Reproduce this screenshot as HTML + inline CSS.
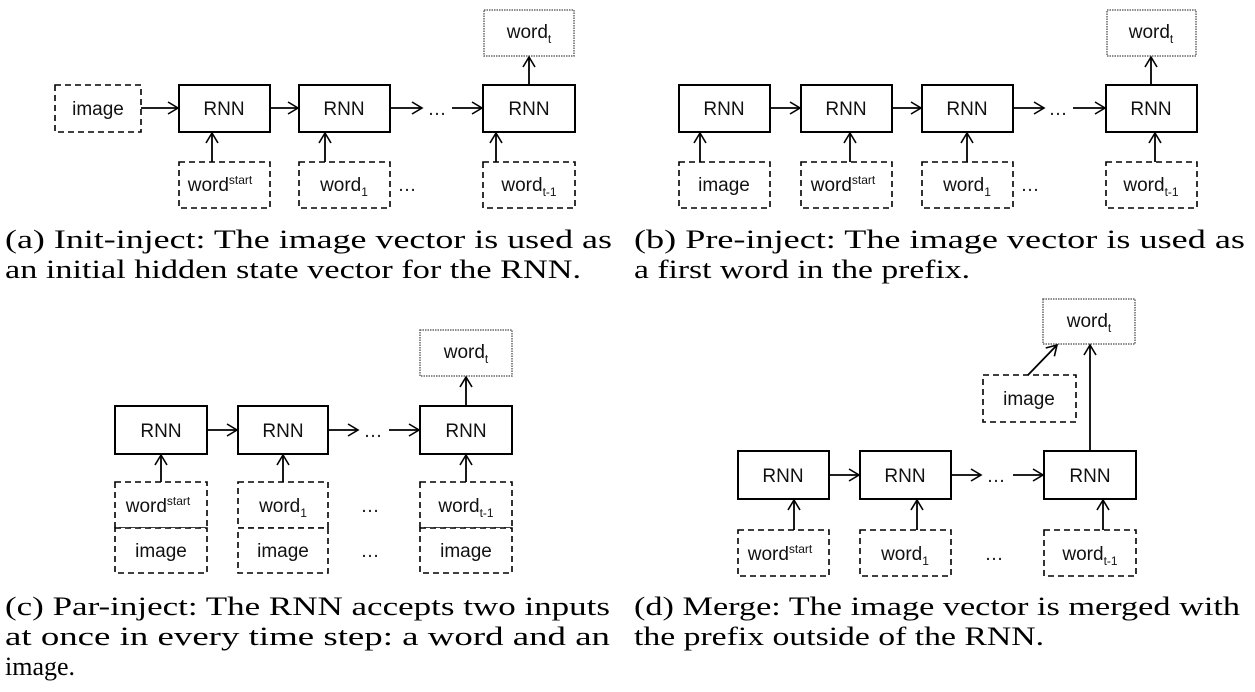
<!DOCTYPE html>
<html><head><meta charset="utf-8"><style>
html,body{margin:0;padding:0;background:#fff;}
svg{display:block}
.b{fill:#fff;stroke:#000;stroke-width:2}
.d{fill:#fff;stroke:#000;stroke-width:1.6;stroke-dasharray:6,4}
.o{fill:#fff;stroke:#666;stroke-width:1.5;stroke-dasharray:1.5,1}
.l{stroke:#000;stroke-width:1.8;fill:none;marker-end:url(#ah)}
.t{font-family:"Liberation Sans",sans-serif;font-size:19px;text-anchor:middle;fill:#111}
.s{font-size:12px}
.c{font-family:"Liberation Serif",serif;font-size:26px;fill:#000}
</style></head><body>
<svg width="1255" height="692" viewBox="0 0 1255 692" xmlns="http://www.w3.org/2000/svg">
<defs><marker id="ah" markerWidth="14" markerHeight="14" refX="12" refY="7" orient="auto" markerUnits="userSpaceOnUse"><path d="M2,1 L12,7 L2,13" fill="none" stroke="#000" stroke-width="1.6"/></marker></defs>

<!-- (a) -->
<rect class="d" x="55" y="85" width="86" height="47"/><text class="t" x="98" y="115">image</text>
<rect class="b" x="179" y="85" width="91" height="47"/><text class="t" x="224" y="115">RNN</text>
<rect class="b" x="299" y="85" width="91" height="47"/><text class="t" x="344" y="115">RNN</text>
<rect class="b" x="483" y="85" width="92" height="47"/><text class="t" x="529" y="115">RNN</text>
<rect class="o" x="484" y="10" width="90" height="46"/><text class="t" x="529" y="38">word<tspan class="s" dy="5">t</tspan></text>
<line class="l" x1="141" y1="108" x2="178" y2="108"/>
<line class="l" x1="270" y1="108" x2="298" y2="108"/>
<line class="l" x1="390" y1="108" x2="422" y2="108"/>
<text class="t" x="437" y="115">…</text>
<line class="l" x1="452" y1="108" x2="482" y2="108"/>
<line class="l" x1="529" y1="85" x2="529" y2="57"/>
<rect class="d" x="179" y="162" width="91" height="46"/><text class="t" x="220" y="191">word<tspan class="s" dy="-7">start</tspan></text>
<rect class="d" x="299" y="162" width="91" height="46"/><text class="t" x="344" y="191">word<tspan class="s" dy="5">1</tspan></text>
<text class="t" x="407" y="191">…</text>
<rect class="d" x="483" y="162" width="92" height="46"/><text class="t" x="529" y="191">word<tspan class="s" dy="5">t-1</tspan></text>
<line class="l" x1="212" y1="162" x2="212" y2="133"/>
<line class="l" x1="325" y1="162" x2="325" y2="133"/>
<line class="l" x1="496" y1="162" x2="496" y2="133"/>
<text class="c" x="5" y="248" textLength="607" lengthAdjust="spacingAndGlyphs">(a)  Init-inject: The image vector is used as</text>
<text class="c" x="5" y="278" textLength="576" lengthAdjust="spacingAndGlyphs">an initial hidden state vector for the RNN.</text>

<!-- (b) -->
<rect class="b" x="679" y="85" width="91" height="47"/><text class="t" x="724" y="115">RNN</text>
<rect class="b" x="801" y="85" width="91" height="47"/><text class="t" x="846" y="115">RNN</text>
<rect class="b" x="922" y="85" width="91" height="47"/><text class="t" x="967" y="115">RNN</text>
<rect class="b" x="1106" y="85" width="91" height="47"/><text class="t" x="1151" y="115">RNN</text>
<rect class="o" x="1107" y="10" width="89" height="46"/><text class="t" x="1151" y="38">word<tspan class="s" dy="5">t</tspan></text>
<line class="l" x1="770" y1="108" x2="800" y2="108"/>
<line class="l" x1="892" y1="108" x2="921" y2="108"/>
<line class="l" x1="1013" y1="108" x2="1044" y2="108"/>
<text class="t" x="1058" y="115">…</text>
<line class="l" x1="1073" y1="108" x2="1105" y2="108"/>
<line class="l" x1="1151" y1="85" x2="1151" y2="57"/>
<rect class="d" x="679" y="162" width="91" height="46"/><text class="t" x="724" y="191">image</text>
<rect class="d" x="801" y="162" width="91" height="46"/><text class="t" x="843" y="191">word<tspan class="s" dy="-7">start</tspan></text>
<rect class="d" x="922" y="162" width="91" height="46"/><text class="t" x="967" y="191">word<tspan class="s" dy="5">1</tspan></text>
<text class="t" x="1030" y="191">…</text>
<rect class="d" x="1106" y="162" width="91" height="46"/><text class="t" x="1151" y="191">word<tspan class="s" dy="5">t-1</tspan></text>
<line class="l" x1="700" y1="162" x2="700" y2="133"/>
<line class="l" x1="850" y1="162" x2="850" y2="133"/>
<line class="l" x1="967" y1="162" x2="967" y2="133"/>
<line class="l" x1="1155" y1="162" x2="1155" y2="133"/>
<text class="c" x="634" y="248" textLength="611" lengthAdjust="spacingAndGlyphs">(b)  Pre-inject: The image vector is used as</text>
<text class="c" x="634" y="278" textLength="336" lengthAdjust="spacingAndGlyphs">a first word in the prefix.</text>

<!-- (c) -->
<rect class="b" x="115" y="406" width="92" height="48"/><text class="t" x="161" y="437">RNN</text>
<rect class="b" x="238" y="406" width="90" height="48"/><text class="t" x="283" y="437">RNN</text>
<rect class="b" x="420" y="406" width="92" height="48"/><text class="t" x="466" y="437">RNN</text>
<rect class="o" x="420" y="330" width="92" height="46"/><text class="t" x="466" y="358">word<tspan class="s" dy="5">t</tspan></text>
<line class="l" x1="207" y1="430" x2="237" y2="430"/>
<line class="l" x1="328" y1="430" x2="358" y2="430"/>
<text class="t" x="373" y="437">…</text>
<line class="l" x1="389" y1="430" x2="419" y2="430"/>
<line class="l" x1="466" y1="406" x2="466" y2="377"/>
<rect class="d" x="115" y="482" width="92" height="46"/><text class="t" x="158" y="512">word<tspan class="s" dy="-7">start</tspan></text>
<rect class="d" x="238" y="482" width="90" height="46"/><text class="t" x="283" y="512">word<tspan class="s" dy="5">1</tspan></text>
<text class="t" x="370" y="512">…</text>
<rect class="d" x="420" y="482" width="92" height="46"/><text class="t" x="466" y="512">word<tspan class="s" dy="5">t-1</tspan></text>
<rect class="d" x="115" y="528" width="92" height="45"/><text class="t" x="161" y="557">image</text>
<rect class="d" x="238" y="528" width="90" height="45"/><text class="t" x="283" y="557">image</text>
<text class="t" x="370" y="557">…</text>
<rect class="d" x="420" y="528" width="92" height="45"/><text class="t" x="466" y="557">image</text>
<line class="l" x1="161" y1="482" x2="161" y2="455"/>
<line class="l" x1="283" y1="482" x2="283" y2="455"/>
<line class="l" x1="466" y1="482" x2="466" y2="455"/>
<text class="c" x="5" y="615" textLength="605" lengthAdjust="spacingAndGlyphs">(c)  Par-inject: The RNN accepts two inputs</text>
<text class="c" x="5" y="645" textLength="605" lengthAdjust="spacingAndGlyphs">at once in every time step: a word and an</text>
<text class="c" x="5" y="675">image.</text>

<!-- (d) -->
<rect class="o" x="1043" y="299" width="92" height="45"/><text class="t" x="1089" y="327">word<tspan class="s" dy="5">t</tspan></text>
<rect class="d" x="983" y="375" width="93" height="47"/><text class="t" x="1029" y="405">image</text>
<line class="l" x1="1028" y1="375" x2="1057" y2="345"/>
<rect class="b" x="738" y="451" width="91" height="48"/><text class="t" x="783" y="482">RNN</text>
<rect class="b" x="860" y="451" width="91" height="48"/><text class="t" x="905" y="482">RNN</text>
<rect class="b" x="1044" y="451" width="92" height="48"/><text class="t" x="1090" y="482">RNN</text>
<line class="l" x1="829" y1="475" x2="859" y2="475"/>
<line class="l" x1="951" y1="475" x2="981" y2="475"/>
<text class="t" x="996" y="482">…</text>
<line class="l" x1="1013" y1="475" x2="1043" y2="475"/>
<line class="l" x1="1090" y1="451" x2="1090" y2="345"/>
<rect class="d" x="738" y="530" width="91" height="46"/><text class="t" x="780" y="560">word<tspan class="s" dy="-7">start</tspan></text>
<rect class="d" x="860" y="530" width="91" height="46"/><text class="t" x="905" y="560">word<tspan class="s" dy="5">1</tspan></text>
<text class="t" x="994" y="560">…</text>
<rect class="d" x="1044" y="530" width="92" height="46"/><text class="t" x="1090" y="560">word<tspan class="s" dy="5">t-1</tspan></text>
<line class="l" x1="794" y1="530" x2="794" y2="500"/>
<line class="l" x1="917" y1="530" x2="917" y2="500"/>
<line class="l" x1="1103" y1="530" x2="1103" y2="500"/>
<text class="c" x="634" y="615" textLength="606" lengthAdjust="spacingAndGlyphs">(d)  Merge: The image vector is merged with</text>
<text class="c" x="634" y="645" textLength="410" lengthAdjust="spacingAndGlyphs">the prefix outside of the RNN.</text>
</svg>
</body></html>
